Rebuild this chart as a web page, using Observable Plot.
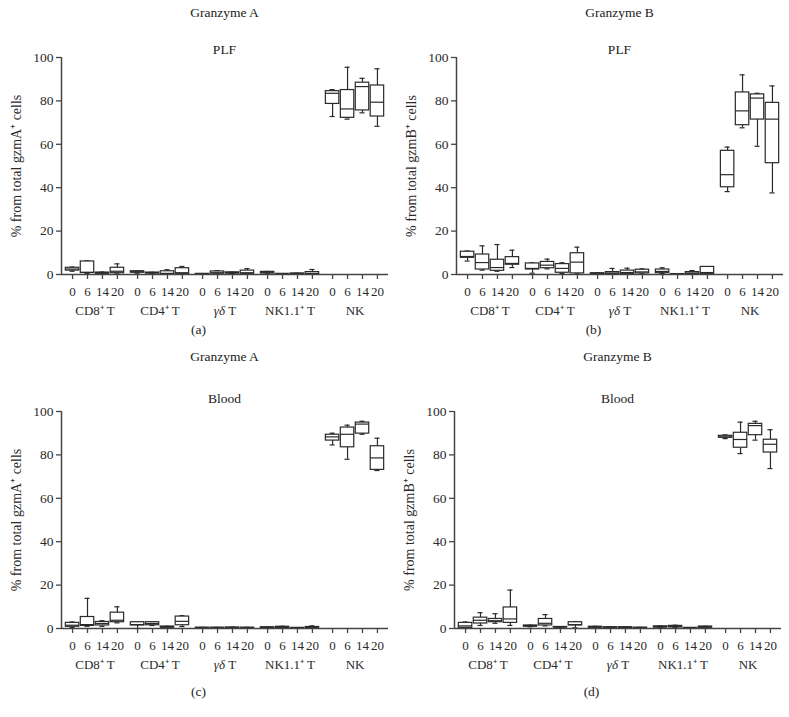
<!DOCTYPE html>
<html><head><meta charset="utf-8">
<script src="https://cdn.jsdelivr.net/npm/d3@7"></script>
<script src="https://cdn.jsdelivr.net/npm/@observablehq/plot@0.6"></script>
<style>
body{margin:0;background:#fff;}
#root{position:relative;width:789px;height:717px;font-family:"Liberation Serif",serif;color:#222;overflow:hidden;background:#fff}
.lbl{position:absolute;transform:translate(-50%,-50%);font-size:13px;white-space:nowrap;line-height:1}
.panel{position:absolute}
</style></head><body><div id="root"></div>
<script>
const groups = ["CD8⁺ T", "CD4⁺ T", "γδ T", "NK1.1⁺ T", "NK"];
const days = ["0", "6", "14", "20"];
const yTicks = [0, 20, 40, 60, 80, 100];

// each row: [min, q1, median, q3, max], group-major, days 0/6/14/20
const plfA = [
  [1.5,1.8,2.5,3.1,3.4],[0.4,0.7,1.0,6.0,6.3],[0.2,0.4,0.6,0.9,1.1],[0.3,0.6,1.5,3.1,4.9],
  [0.6,0.9,1.1,1.5,1.7],[0.3,0.5,0.7,0.9,1.0],[0.1,0.2,0.5,1.5,2.2],[0.2,0.3,0.8,2.9,3.7],
  [0.05,0.1,0.2,0.3,0.4],[0.3,0.4,0.8,1.4,1.8],[0.4,0.5,0.7,1.0,1.1],[0.2,0.3,0.8,1.8,2.7],
  [0.3,0.5,0.8,1.2,1.4],[0.1,0.15,0.2,0.3,0.35],[0.1,0.2,0.3,0.5,0.6],[0.1,0.15,0.5,1.1,2.3],
  [72.8,78.6,83.5,84.5,85.2],[71.6,72.2,76.3,85.0,95.5],[74.5,75.6,86.6,88.4,90.4],[68.3,72.8,79.4,87.1,94.8]
];
const plfB = [
  [6.2,7.7,8.3,10.5,10.8],[2.0,2.3,5.5,9.2,13.2],[1.5,1.7,3.2,6.8,13.8],[3.2,4.5,5.1,8.0,11.2],
  [0.6,2.3,2.8,5.1,5.4],[2.6,2.9,4.3,5.8,7.1],[0.5,0.8,2.8,4.8,5.4],[0.3,0.5,5.7,9.8,12.6],
  [0.1,0.2,0.4,0.6,0.8],[0.2,0.3,0.6,1.1,2.8],[0.2,0.3,0.9,1.8,2.9],[0.3,0.5,1.2,2.2,2.6],
  [0.5,0.6,1.4,2.3,3.1],[0.05,0.1,0.15,0.2,0.3],[0.2,0.3,0.6,1.1,1.8],[0.2,0.3,0.9,3.5,3.6],
  [38.2,40.2,46.0,57.0,58.7],[67.6,68.8,75.4,83.9,92.0],[59.1,71.4,81.3,83.0,83.5],[37.6,51.3,71.6,79.1,86.9]
];
const bloodA = [
  [0.5,0.8,1.5,2.6,3.0],[1.0,1.2,1.8,5.3,13.9],[1.0,1.4,2.3,3.0,3.6],[2.6,2.9,3.8,7.3,10.0],
  [0.0,1.4,1.8,2.9,2.9],[1.4,1.5,2.3,2.9,3.0],[0.3,0.4,0.6,0.9,1.0],[0.9,1.5,3.3,5.5,5.9],
  [0.1,0.2,0.3,0.4,0.5],[0.1,0.2,0.3,0.4,0.5],[0.1,0.2,0.3,0.5,0.6],[0.1,0.2,0.3,0.4,0.5],
  [0.1,0.2,0.4,0.6,0.7],[0.2,0.3,0.5,0.8,1.0],[0.05,0.1,0.2,0.3,0.3],[0.1,0.2,0.4,0.7,1.2],
  [84.6,86.6,88.3,89.3,90.0],[78.0,83.5,89.5,92.6,93.7],[89.5,89.8,94.2,94.9,95.5],[72.8,73.1,78.6,84.0,87.7]
];
const bloodB = [
  [0.2,0.3,1.2,2.6,3.0],[1.4,2.3,3.8,5.0,7.3],[2.4,2.9,3.6,4.4,6.8],[1.4,2.6,4.4,9.7,17.7],
  [0.8,0.9,1.1,1.4,1.5],[1.2,1.4,2.4,4.4,6.4],[0.4,0.5,0.6,0.7,0.8],[0.3,1.4,1.8,2.9,3.2],
  [0.3,0.4,0.6,0.8,1.0],[0.2,0.3,0.5,0.6,0.8],[0.2,0.3,0.5,0.6,0.8],[0.1,0.2,0.3,0.4,0.5],
  [0.3,0.5,0.7,1.0,1.2],[0.4,0.6,0.8,1.2,1.5],[0.1,0.15,0.2,0.3,0.3],[0.2,0.4,0.6,0.9,1.0],
  [87.5,87.9,88.3,88.8,89.2],[80.6,83.3,87.1,90.2,95.1],[86.8,89.1,93.5,94.3,95.5],[73.7,81.1,84.9,87.0,91.6]
];

const GROUP_STEP = 4.35;
const xDomain = [-0.74, 21.14];
const ink = "#2a2a2a";
const axisInk = "#444";

function rowsOf(data) {
  const rows = [];
  groups.forEach((g, gi) => days.forEach((d, di) => {
    const v = data[gi * 4 + di];
    rows.push({group: g, day: d, x: gi * GROUP_STEP + di, min: v[0], q1: v[1], med: v[2], q3: v[3], max: v[4]});
  }));
  return rows;
}

const panels = [
  {data: plfA, title: "Granzyme A", sub: "PLF", tag: "(a)", ylabel: "% from total gzmA⁺ cells", left: 0, top: 40, titleY: 13, subY: 50, tagY: 330},
  {data: plfB, title: "Granzyme B", sub: "PLF", tag: "(b)", ylabel: "% from total gzmB⁺ cells", left: 395, top: 40, titleY: 13, subY: 50, tagY: 330},
  {data: bloodA, title: "Granzyme A", sub: "Blood", tag: "(c)", ylabel: "% from total gzmA⁺ cells", left: 0, top: 394, titleY: 357, subY: 399, tagY: 692},
  {data: bloodB, title: "Granzyme B", sub: "Blood", tag: "(d)", ylabel: "% from total gzmB⁺ cells", left: 393, top: 394, titleY: 357, subY: 399, tagY: 692}
];

const root = document.getElementById("root");
const W = 394, H = 280, mL = 61, mR = 6, mT = 17, mB = 46;

for (const p of panels) {
  const rows = rowsOf(p.data);
  const tickPos = rows.map(r => r.x);
  const tickLab = new Map(rows.map(r => [r.x, r.day]));
  const groupPos = groups.map((g, gi) => gi * GROUP_STEP + 1.5);
  const groupLab = new Map(groups.map((g, gi) => [gi * GROUP_STEP + 1.5, g]));
  const chart = Plot.plot({
    width: W, height: H,
    marginLeft: mL, marginRight: mR, marginTop: mT, marginBottom: mB,
    style: {fontFamily: '"Liberation Serif", serif', fontSize: "13px", color: ink, background: "transparent"},
    x: {domain: xDomain, axis: null},
    y: {domain: [0, 100], axis: null},
    marks: [
      Plot.ruleX(rows, {x: "x", y1: "min", y2: "q1", stroke: ink, strokeWidth: 1.2}),
      Plot.ruleX(rows, {x: "x", y1: "q3", y2: "max", stroke: ink, strokeWidth: 1.2}),
      Plot.ruleY(rows, {y: "min", x1: d => d.x - 0.17, x2: d => d.x + 0.17, stroke: ink, strokeWidth: 1.2}),
      Plot.ruleY(rows, {y: "max", x1: d => d.x - 0.17, x2: d => d.x + 0.17, stroke: ink, strokeWidth: 1.2}),
      Plot.rect(rows, {x1: d => d.x - 0.45, x2: d => d.x + 0.45, y1: "q1", y2: "q3", fill: "white", stroke: ink, strokeWidth: 1.2}),
      Plot.ruleY(rows, {y: "med", x1: d => d.x - 0.45, x2: d => d.x + 0.45, stroke: ink, strokeWidth: 1.2}),
      Plot.ruleX([xDomain[0]], {y1: 0, y2: 100, stroke: axisInk, strokeWidth: 1.5}),
      Plot.ruleY([0], {stroke: axisInk, strokeWidth: 1.5}),
      Plot.axisY({ticks: yTicks, tickSize: 5, tickPadding: 3, stroke: axisInk, strokeWidth: 1.3,
        label: p.ylabel, labelAnchor: "center", labelOffset: 50, labelArrow: "none", fontSize: 13.5}),
      Plot.axisX({ticks: tickPos, tickFormat: d => tickLab.get(d), tickSize: 5, tickPadding: 7,
        stroke: axisInk, strokeWidth: 1.3, label: null, fontSize: 13}),
      Plot.axisX({ticks: groupPos, tickFormat: d => groupLab.get(d), tickSize: 0, tickPadding: 31,
        label: null, fontSize: 13})
    ]
  });
  chart.classList.add("panel");
  chart.style.left = p.left + "px";
  chart.style.top = p.top + "px";
  d3.select(chart).selectAll("text").each(function () {
    if (this.textContent === "γδ T") {
      const t = d3.select(this);
      t.text("");
      t.append("tspan").attr("font-style", "italic").text("γδ");
      t.append("tspan").text(" T");
    }
    if (this.textContent === p.ylabel) d3.select(this).attr("font-size", 14);
  });
  root.appendChild(chart);

  const cx = p.left + (mL + (W - mR)) / 2;
  for (const [txt, y, dx] of [[p.title, p.titleY, 0], [p.sub, p.subY, 0], [p.tag, p.tagY, -26]]) {
    const el = document.createElement("div");
    el.className = "lbl";
    el.textContent = txt;
    el.style.left = (cx + dx) + "px";
    el.style.top = y + "px";
    el.style.fontSize = "13.5px";
    root.appendChild(el);
  }
}
</script></body></html>
